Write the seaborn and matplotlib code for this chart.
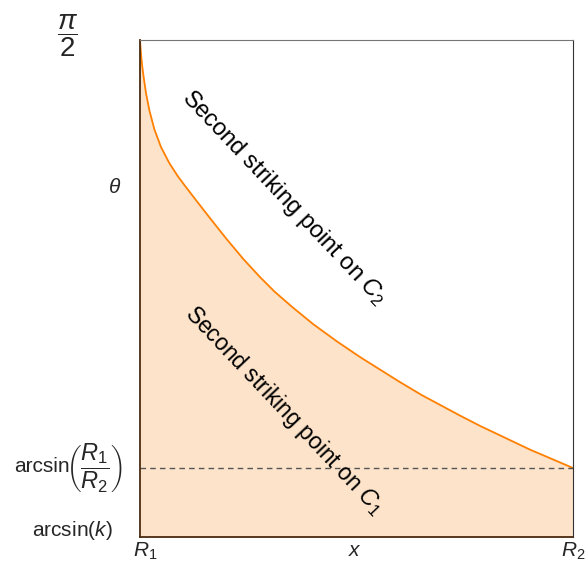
import numpy as np
import pandas as pd
import matplotlib
matplotlib.use("Agg")
import matplotlib.pyplot as plt
import seaborn as sns

# x runs from R1 (0) to R2 (1); theta runs from arcsin(k) (0) to pi/2 (1)
x_vals = [0.0, 0.00115, 0.00277, 0.00508, 0.00808, 0.01386, 0.02148, 0.03303,
          0.0485, 0.0677, 0.0871, 0.1023, 0.13, 0.16, 0.2, 0.2386, 0.2771,
          0.31, 0.35, 0.40, 0.455, 0.508, 0.6, 0.65, 0.739, 0.785, 0.9, 1.0]
theta_vals = [1.0, 0.9859, 0.9678, 0.9477, 0.9276, 0.8934, 0.8592, 0.8209,
              0.7847, 0.7525, 0.7264, 0.7085, 0.6771, 0.6435, 0.5996, 0.5594, 0.5231,
              0.4944, 0.464, 0.4283, 0.3935, 0.3622, 0.3119, 0.2859, 0.2443, 0.2237,
              0.1761, 0.1388]
level_r1_r2 = 0.1388

x_tick_labels = [r"$R_1$", r"$R_2$"]
region_labels = [r"Second striking point on $C_2$", r"Second striking point on $C_1$"]

sns.set_style("white")
plt.rcParams["font.family"] = ["Liberation Sans", "DejaVu Sans"]
plt.rcParams["mathtext.fontset"] = "custom"
plt.rcParams["mathtext.rm"] = "Liberation Sans"
plt.rcParams["mathtext.it"] = "Liberation Sans:italic"
plt.rcParams["mathtext.bf"] = "Liberation Sans:bold"

df = pd.DataFrame({"x": x_vals, "theta": theta_vals})

fig = plt.figure(figsize=(5.87, 5.64), dpi=100)
ax = fig.add_axes([0.2385, 0.0479, 0.7377, 0.881])

ax.fill_between(df["x"], 0, df["theta"], color="#fde3c9", linewidth=0)
sns.lineplot(data=df, x="x", y="theta", ax=ax, color="#ff8000", linewidth=1.3,
             sort=False, estimator=None)
ax.axhline(level_r1_r2, color="#555555", linestyle=(0, (4, 3)), linewidth=1)

ax.set_xlim(0, 1)
ax.set_ylim(0, 1)
ax.set_xticks([])
ax.set_yticks([])
ax.set_xlabel("")
ax.set_ylabel("")

for side in ["left", "bottom"]:
    ax.spines[side].set_color("#4a2a10")
    ax.spines[side].set_linewidth(1.3)
ax.spines["top"].set_color("#777777")
ax.spines["right"].set_color("#333333")
for side in ax.spines:
    ax.spines[side].set_visible(True)

fs = 15
# axis annotations
ax.text(0.0115, -0.029, x_tick_labels[0], ha="center", va="center", fontsize=fs, clip_on=False)
ax.text(1.0, -0.029, x_tick_labels[1], ha="center", va="center", fontsize=fs, clip_on=False)
ax.text(0.4965, -0.028, r"$x$", ha="center", va="center", fontsize=fs, clip_on=False)
ax.text(-0.0577, 0.704, r"$\theta$", ha="center", va="center", fontsize=fs, clip_on=False)
ax.text(-0.167, 1.008, r"$\dfrac{\pi}{2}$", ha="center", va="center", fontsize=20, clip_on=False)
ax.text(-0.1617, level_r1_r2 + 0.004, "arcsin", ha="right", va="center",
        fontsize=fs, clip_on=False)
ax.text(-0.039, level_r1_r2, r"$\left(\dfrac{R_1}{R_2}\right)$", ha="right", va="center",
        fontsize=17, clip_on=False)
ax.text(-0.062, 0.013, r"arcsin($k$)", ha="right", va="center", fontsize=fs, clip_on=False)

# region labels
ax.text(0.333, 0.682, region_labels[0], rotation=-46.5, rotation_mode="anchor",
        ha="center", va="center", fontsize=17, color="black")
ax.text(0.333, 0.255, region_labels[1], rotation=-46.5, rotation_mode="anchor",
        ha="center", va="center", fontsize=16.5, color="black")

fig.savefig("out.png", dpi=100)
